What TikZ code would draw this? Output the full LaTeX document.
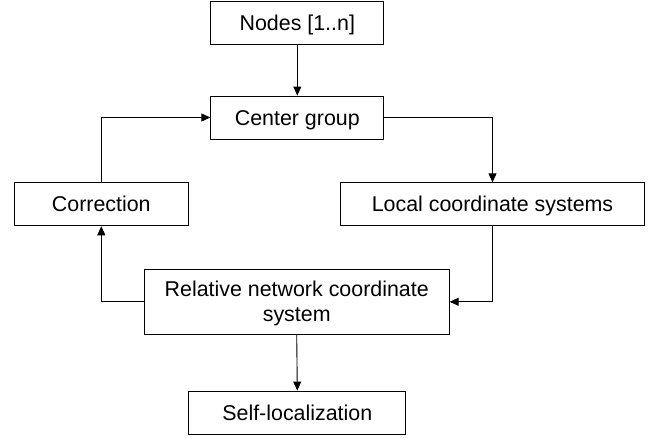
\documentclass[tikz,border=0pt]{standalone}
\usepackage{fontspec}
\setmainfont{Liberation Sans}
\usetikzlibrary{arrows.meta}
\begin{document}
\begin{tikzpicture}[x=1pt,y=-1pt,
  box/.style={draw=black,line width=0.9pt,fill=white,inner sep=0pt,align=center,
    font=\fontsize{21.4}{25}\selectfont,text height=15.3pt,text depth=0pt},
  conn/.style={draw=black,line width=0.9pt,-{Triangle[length=9pt,width=8pt]}}]
\useasboundingbox (0,0) rectangle (660,437);
\node[box,minimum width=173pt,minimum height=43pt] (nodes) at (297.3,22.5) {Nodes [1..n]};
\node[box,minimum width=173pt,minimum height=43pt] (center) at (297.3,117.5) {Center group};
\node[box,minimum width=174pt,minimum height=43pt] (corr) at (101.3,204.3) {Correction};
\node[box,minimum width=304pt,minimum height=43pt] (local) at (492.5,204.3) {Local coordinate systems};
\node[box,minimum width=305pt,minimum height=65pt,text height=40.3pt] (rel) at (296.7,301.8) {Relative network coordinate\\system};
\node[box,minimum width=217pt,minimum height=43pt] (self) at (297.3,412.5) {Self-localization};
\draw[conn] (nodes.south) -- (center.north);
\draw[conn] (center.east) -| (local.north);
\draw[conn] (local.south) |- (rel.east);
\draw[conn] (rel.west) -| (corr.south);
\draw[conn] (corr.north) |- (center.west);
\draw[conn] (rel.south) -- (self.north);
\end{tikzpicture}
\end{document}
